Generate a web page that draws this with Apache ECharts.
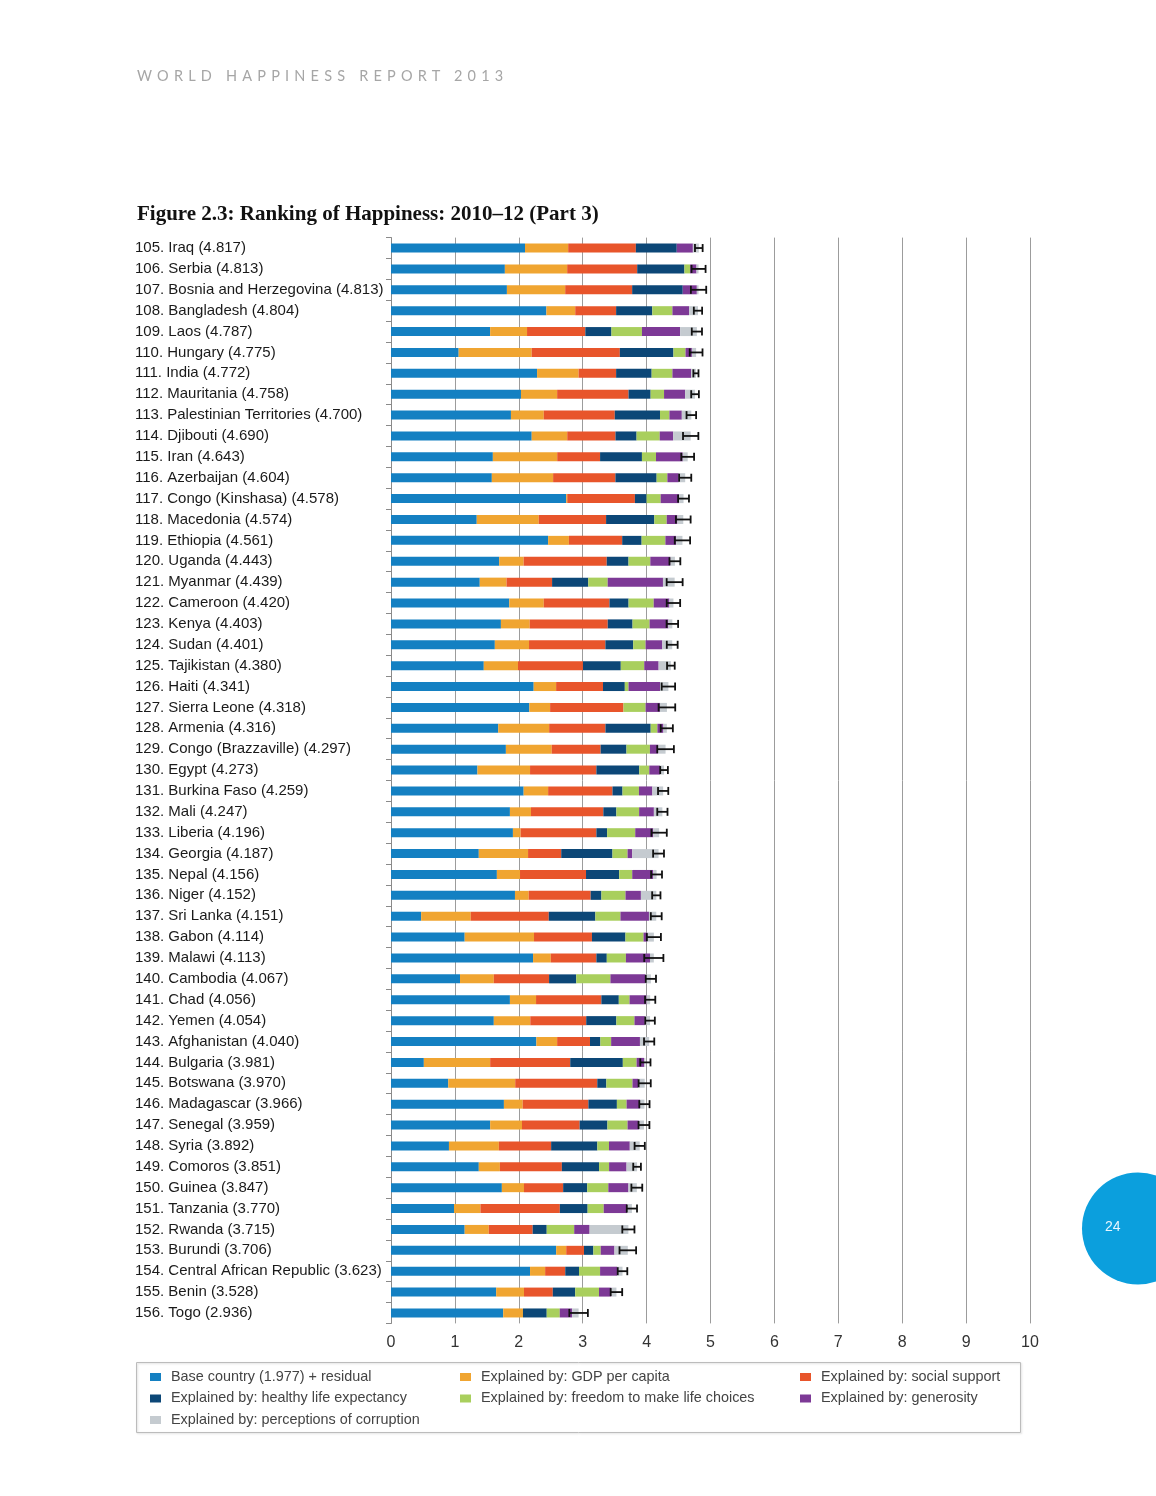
<!DOCTYPE html>
<html>
<head>
<meta charset="utf-8">
<script src="https://cdn.jsdelivr.net/npm/echarts@6/dist/echarts.min.js"></script>
<style>
html,body{margin:0;padding:0;background:#fff;}
#wrap{position:relative;width:1156px;height:1496px;}
#chart{position:absolute;left:0;top:0;width:1156px;height:1496px;}
#hdr{position:absolute;left:137px;top:67px;font-family:'Lato','Open Sans',sans-serif;font-size:14.5px;letter-spacing:5.2px;color:#a6a6a6;white-space:nowrap;z-index:2;}
</style>
</head>
<body>
<div id="wrap">
<div id="chart"></div>
<div id="hdr">WORLD HAPPINESS REPORT 2013</div>
</div>
<script>
const countries = ["Iraq","Serbia","Bosnia and Herzegovina","Bangladesh","Laos","Hungary","India","Mauritania","Palestinian Territories","Djibouti","Iran","Azerbaijan","Congo (Kinshasa)","Macedonia","Ethiopia","Uganda","Myanmar","Cameroon","Kenya","Sudan","Tajikistan","Haiti","Sierra Leone","Armenia","Congo (Brazzaville)","Egypt","Burkina Faso","Mali","Liberia","Georgia","Nepal","Niger","Sri Lanka","Gabon","Malawi","Cambodia","Chad","Yemen","Afghanistan","Bulgaria","Botswana","Madagascar","Senegal","Syria","Comoros","Guinea","Tanzania","Rwanda","Burundi","Central African Republic","Benin","Togo"];
const scoreLabels = ["4.817","4.813","4.813","4.804","4.787","4.775","4.772","4.758","4.700","4.690","4.643","4.604","4.578","4.574","4.561","4.443","4.439","4.420","4.403","4.401","4.380","4.341","4.318","4.316","4.297","4.273","4.259","4.247","4.196","4.187","4.156","4.152","4.151","4.114","4.113","4.067","4.056","4.054","4.040","3.981","3.970","3.966","3.959","3.892","3.851","3.847","3.770","3.715","3.706","3.623","3.528","2.936"];
const firstRank = 105;

const baseResidual = [2.097,1.782,1.814,2.432,1.552,1.059,2.286,2.034,1.877,2.202,1.594,1.578,2.742,1.342,2.459,1.693,1.389,1.851,1.720,1.625,1.452,2.233,2.165,1.678,1.798,1.353,2.076,1.861,1.908,1.374,1.657,1.940,0.472,1.153,2.223,1.080,1.861,1.609,2.275,0.514,0.896,1.767,1.552,0.907,1.374,1.735,0.986,1.153,2.585,2.176,1.646,1.756];
const gdp = [0.676,0.975,0.912,0.451,0.577,1.143,0.650,0.566,0.514,0.556,1.007,0.959,0.016,0.970,0.325,0.383,0.419,0.540,0.451,0.535,0.535,0.351,0.325,0.797,0.718,0.823,0.383,0.330,0.121,0.771,0.362,0.215,0.776,1.085,0.278,0.529,0.409,0.571,0.325,1.038,1.048,0.294,0.498,0.781,0.330,0.346,0.414,0.377,0.157,0.236,0.435,0.309];
const socialSupport = [1.059,1.096,1.048,0.640,0.912,1.379,0.587,1.117,1.111,0.755,0.671,0.975,1.059,1.054,0.834,1.300,0.713,1.028,1.221,1.195,1.017,0.734,1.148,0.881,0.765,1.038,1.007,1.132,1.185,0.519,1.033,0.970,1.221,0.907,0.713,0.865,1.022,0.875,0.514,1.253,1.284,1.028,0.902,0.818,0.970,0.613,1.242,0.687,0.278,0.315,0.451,0.000];
const healthyLife = [0.640,0.739,0.792,0.566,0.409,0.839,0.556,0.346,0.708,0.330,0.655,0.645,0.183,0.755,0.304,0.341,0.566,0.299,0.388,0.435,0.592,0.341,0.000,0.708,0.404,0.671,0.157,0.204,0.168,0.802,0.519,0.168,0.729,0.524,0.163,0.425,0.273,0.472,0.163,0.823,0.142,0.446,0.435,0.723,0.582,0.377,0.435,0.220,0.147,0.215,0.351,0.372];
const freedom = [0.000,0.089,0.000,0.315,0.477,0.189,0.325,0.210,0.147,0.362,0.220,0.168,0.220,0.194,0.372,0.341,0.304,0.393,0.267,0.194,0.367,0.058,0.346,0.105,0.367,0.157,0.257,0.356,0.440,0.236,0.204,0.377,0.393,0.283,0.299,0.535,0.168,0.283,0.168,0.215,0.409,0.152,0.315,0.183,0.157,0.330,0.252,0.430,0.115,0.330,0.372,0.204];
const generosity = [0.252,0.100,0.220,0.262,0.598,0.100,0.294,0.330,0.194,0.210,0.419,0.178,0.288,0.168,0.168,0.315,0.865,0.246,0.294,0.262,0.225,0.493,0.225,0.094,0.131,0.168,0.210,0.231,0.283,0.073,0.330,0.241,0.446,0.063,0.377,0.550,0.267,0.163,0.451,0.120,0.089,0.210,0.178,0.325,0.273,0.315,0.367,0.241,0.215,0.267,0.194,0.194];
const corruption = [0.093,0.032,0.027,0.138,0.262,0.066,0.074,0.155,0.149,0.275,0.077,0.101,0.070,0.091,0.099,0.070,0.183,0.063,0.062,0.155,0.192,0.131,0.109,0.053,0.114,0.063,0.169,0.133,0.091,0.412,0.051,0.241,0.114,0.099,0.060,0.083,0.056,0.081,0.144,0.018,0.102,0.069,0.079,0.155,0.165,0.131,0.074,0.607,0.209,0.084,0.079,0.101];
const scores = [4.817,4.813,4.813,4.804,4.787,4.775,4.772,4.758,4.700,4.690,4.643,4.604,4.578,4.574,4.561,4.443,4.439,4.420,4.403,4.401,4.380,4.341,4.318,4.316,4.297,4.273,4.259,4.247,4.196,4.187,4.156,4.152,4.151,4.114,4.113,4.067,4.056,4.054,4.040,3.981,3.970,3.966,3.959,3.892,3.851,3.847,3.770,3.715,3.706,3.623,3.528,2.936];
const errHalf = [0.06,0.11,0.12,0.065,0.08,0.10,0.04,0.06,0.075,0.12,0.10,0.095,0.085,0.115,0.12,0.085,0.125,0.105,0.09,0.085,0.06,0.105,0.13,0.095,0.13,0.06,0.08,0.08,0.12,0.085,0.085,0.065,0.085,0.11,0.15,0.08,0.08,0.075,0.08,0.08,0.095,0.08,0.085,0.08,0.06,0.085,0.08,0.095,0.13,0.075,0.09,0.145];
const xTicks = [0,1,2,3,4,5,6,7,8,9,10];

const seriesNames = ["Base country (1.977) + residual","Explained by: GDP per capita","Explained by: social support","Explained by: healthy life expectancy","Explained by: freedom to make life choices","Explained by: generosity","Explained by: perceptions of corruption"];
const seriesData = [baseResidual,gdp,socialSupport,healthyLife,freedom,generosity,corruption];
const colors = ["#1480c2","#f0a531","#e8552b","#0c4777","#a9cf5d","#7d3996","#c5cbd0"];

const labels = countries.map((c,i)=> (firstRank+i) + ". " + c + " (" + scoreLabels[i] + ")");

const chart = echarts.init(document.getElementById('chart'), null, {renderer:'canvas'});

const barSeries = seriesNames.map((n,k)=>({
  name:n, type:'bar', stack:'total', barWidth:9,
  data: seriesData[k], itemStyle:{color:colors[k]},
  emphasis:{disabled:true}, silent:true, z:3
}));

const errSeries = {
  type:'custom', name:'ci', silent:true, z:5,
  data: scores.map((s,i)=>[s-errHalf[i], s+errHalf[i], i]),
  encode:{x:[0,1], y:2},
  renderItem:function(params, api){
    const yi = api.value(2);
    const a = api.coord([api.value(0), yi]);
    const b = api.coord([api.value(1), yi]);
    const h = 4;
    const st = {stroke:'#111', lineWidth:1.8};
    return {type:'group', children:[
      {type:'line', shape:{x1:a[0],y1:a[1],x2:b[0],y2:b[1]}, style:st},
      {type:'line', shape:{x1:a[0],y1:a[1]-h,x2:a[0],y2:a[1]+h}, style:st},
      {type:'line', shape:{x1:b[0],y1:b[1]-h,x2:b[0],y2:b[1]+h}, style:st}
    ]};
  }
};

const legendCommon = {
  orient:'vertical', padding:0, itemWidth:11, itemHeight:8, itemGap:7.5, icon:'rect',
  textStyle:{fontFamily:'Liberation Sans, Arial, sans-serif', fontSize:14.4, color:'#444', lineHeight:14, padding:[0,0,0,5]},
  selectedMode:false, top:1370
};

const option = {
  animation:false,
  backgroundColor:'#fff',
  title:{
    text:'Figure 2.3: Ranking of Happiness: 2010–12 (Part 3)',
    left:137, top:204, padding:0,
    textStyle:{fontFamily:'Liberation Serif, DejaVu Serif, serif', fontSize:21, fontWeight:'bold', color:'#111'}
  },
  legend:[
    Object.assign({}, legendCommon, {left:150, data:[seriesNames[0],seriesNames[3],seriesNames[6]]}),
    Object.assign({}, legendCommon, {left:460, data:[seriesNames[1],seriesNames[4]]}),
    Object.assign({}, legendCommon, {left:800, data:[seriesNames[2],seriesNames[5]]})
  ],
  grid:{left:391, right:126, top:237.6, bottom:172.6, containLabel:false},
  xAxis:{
    type:'value', min:0, max:10, interval:1,
    axisLine:{show:false}, axisTick:{show:false},
    axisLabel:{fontFamily:'Liberation Sans, Arial, sans-serif', fontSize:16, color:'#333', margin:11,
      formatter:function(v){ return xTicks.indexOf(v) >= 0 ? String(v) : ''; }},
    splitLine:{show:true, lineStyle:{color:'#9c9c9c', width:1}}
  },
  yAxis:{
    type:'category', inverse:true, data:labels,
    axisLine:{show:true, lineStyle:{color:'#8a8a8a', width:1}},
    axisTick:{show:true, length:5, lineStyle:{color:'#8a8a8a'}},
    axisLabel:{fontFamily:'Liberation Sans, Arial, sans-serif', fontSize:15, color:'#1a1a1a', align:'left', margin:256, interval:0}
  },
  graphic:[
    {type:'rect', shape:{x:136.5, y:1362.5, width:884, height:70}, style:{fill:'none', stroke:'#bcbcbc', lineWidth:1, shadowBlur:2, shadowColor:'rgba(0,0,0,0.15)', shadowOffsetX:1, shadowOffsetY:1}, z:0, silent:true},
    {type:'circle', shape:{cx:1138, cy:1228.5, r:56}, style:{fill:'#0b9fdd'}, silent:true},
    {type:'text', left:1105, top:1220, style:{text:'24', fill:'#e6f6ff', fontSize:14, fontFamily:'Liberation Sans, Arial, sans-serif'}, silent:true}
  ],
  series: barSeries.concat([errSeries])
};
chart.setOption(option);
</script>
</body>
</html>
